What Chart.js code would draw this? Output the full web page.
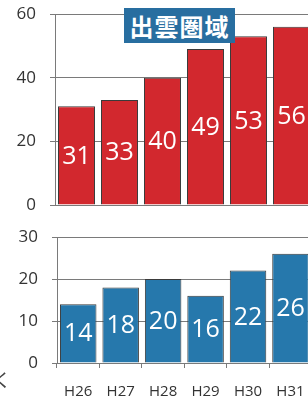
<!DOCTYPE html>
<html>
<head>
<meta charset="utf-8">
<script src="https://cdn.jsdelivr.net/npm/chart.js@4"></script>
<style>
  html, body { margin: 0; padding: 0; background: #fff; overflow: hidden; width: 308px; height: 406px; }
  .box { position: absolute; left: 0; width: 320px; }
  #topBox { top: 0; height: 230px; }
  #bottomBox { top: 220px; height: 186px; }
  #title {
    position: absolute; left: 124px; top: 8px; width: 111px; height: 35px;
    background: rgb(40, 110, 160); color: #fff;
    font-family: "Noto Sans CJK JP", sans-serif; font-weight: bold; font-size: 24px;
    line-height: 35px; text-align: center; letter-spacing: 1px;
  }
  #mark { position: absolute; left: -7px; top: 366px; font: 18px "Noto Sans CJK JP", sans-serif; color: #444; }
</style>
</head>
<body>
<div class="box" id="topBox"><canvas id="topChart"></canvas></div>
<div class="box" id="bottomBox"><canvas id="bottomChart"></canvas></div>
<div id="title">出雲圏域</div>
<div id="mark">く</div>
<script>
const years = ['H26', 'H27', 'H28', 'H29', 'H30', 'H31'];
const redValues = [31, 33, 40, 49, 53, 56];
const blueValues = [14, 18, 20, 16, 22, 26];
const topTicks = [0, 20, 40, 60];
const bottomTicks = [0, 10, 20, 30];

const gridColor = '#7a7a7a';
const tickFont = { family: 'Open Sans', size: 17 };

// values written in the middle of each bar
const barLabels = {
  id: 'barLabels',
  afterDatasetsDraw(chart) {
    const ctx = chart.ctx;
    const meta = chart.getDatasetMeta(0);
    ctx.save();
    ctx.fillStyle = '#fff';
    ctx.font = '25px "Open Sans"';
    ctx.textAlign = 'center';
    ctx.textBaseline = 'middle';
    meta.data.forEach(function (bar, i) {
      const mid = (bar.y + bar.base) / 2;
      ctx.fillText(chart.data.datasets[0].data[i], bar.x, mid + 1);
    });
    ctx.restore();
  }
};

function makeChart(id, values, color, ticks, max, showX, padding, xHeight) {
  const ctx = document.getElementById(id).getContext('2d');
  return new Chart(ctx, {
    type: 'bar',
    data: {
      labels: years,
      datasets: [{
        data: values,
        backgroundColor: color,
        borderColor: '#3a3a3a',
        borderWidth: 1,
        categoryPercentage: 1,
        barPercentage: 0.86
      }]
    },
    options: {
      responsive: true,
      maintainAspectRatio: false,
      animation: false,
      layout: { padding: padding },
      plugins: { legend: { display: false }, tooltip: { enabled: false } },
      scales: {
        x: {
          display: showX,
          grid: { display: true, drawOnChartArea: false, offset: true, color: gridColor, tickLength: 5 },
          border: { color: gridColor },
          ticks: { color: '#333', font: { family: 'Open Sans', size: 15 }, padding: 15 },
          afterFit: function (scale) { if (xHeight) scale.height = xHeight; }
        },
        y: {
          min: 0,
          max: max,
          afterBuildTicks: function (scale) { scale.ticks = ticks.map(function (v) { return { value: v }; }); },
          grid: { color: gridColor, tickLength: 5 },
          border: { color: gridColor },
          ticks: { color: '#333', font: tickFont, padding: 14 },
          afterFit: function (scale) {
            scale.width = padding.yWidth;
            scale.paddingTop = 0;
            scale.paddingBottom = 0;
          }
        }
      }
    },
    plugins: [barLabels]
  });
}

makeChart('topChart', redValues, 'rgb(210, 40, 46)', topTicks, 60, false,
  { top: 14, bottom: 25, left: 0, right: 7, yWidth: 55 }, 0);
makeChart('bottomChart', blueValues, 'rgb(38, 120, 172)', bottomTicks, 30, true,
  { top: 17, bottom: 0, left: 0, right: 5, yWidth: 57 }, 43);
</script>
</body>
</html>
